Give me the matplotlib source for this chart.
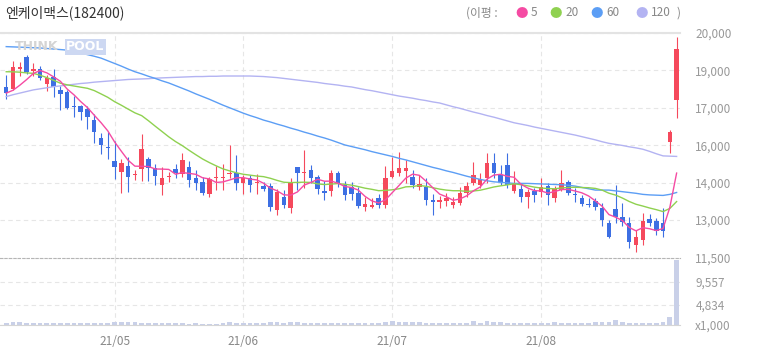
import numpy as np
import pandas as pd
import matplotlib
matplotlib.use("Agg")
import matplotlib.pyplot as plt

plt.rcParams['font.family'] = ['Noto Sans CJK KR', 'DejaVu Sans']

# 일봉 데이터 (21/04 중순 ~ 21/08/31), 화면에서 읽은 값
opens = [17990, 17890, 18650, 19090, 18590, 18650, 18080, 18360, 17870, 17800,
         17270, 17270, 17150, 16740, 16060, 15730, 15220, 14810, 15020, 14690,
         14900, 15270, 14960, 14310, 14620, 14910, 14720, 14970, 14580, 14440,
         13970, 14570, 14580, 14720, 14750, 14400, 14580, 14380, 14260, 14280,
         13380, 13870, 13440, 14970, 14760, 14870, 14620, 14090, 14070, 14760,
         14310, 14250, 14000, 13500, 13500, 13810, 13560, 14600, 14750, 14850,
         14620, 14250, 14250, 13750, 13660, 13720, 13560, 13650, 14000, 14380,
         14310, 14560, 15120, 14690, 15060, 14100, 14150, 13870, 14080, 14060,
         14280, 13810, 14120, 14440, 13980, 13840, 13600, 13700, 13440, 12880,
         13400, 13130, 12900, 12070, 12250, 13030, 12980, 12900, 15930, 17490]
highs = [18430, 18960, 18900, 19160, 18880, 18770, 18430, 18650, 18000, 17850,
         17650, 17300, 17250, 16960, 16250, 16280, 15960, 15270, 15370, 14860,
         16220, 15370, 15080, 15000, 14810, 15080, 15500, 15220, 14880, 14620,
         14600, 15010, 15080, 15800, 15420, 14700, 14700, 14710, 14440, 14400,
         14160, 14130, 14560, 14970, 15610, 15050, 14700, 14460, 14880, 14850,
         14460, 14430, 14250, 13860, 13830, 13990, 15010, 15370, 15550, 15250,
         14880, 14700, 14560, 13990, 13900, 14000, 13880, 14250, 14440, 15190,
         14750, 15520, 15500, 15060, 15500, 14850, 14380, 14160, 14210, 14560,
         14380, 14260, 14880, 14480, 14200, 13930, 13830, 13840, 13630, 12990,
         14310, 13630, 13130, 12610, 13270, 13240, 13070, 13440, 16360, 19840]
lows = [17530, 17850, 18400, 18480, 18380, 18240, 17830, 17620, 17100, 17160,
        16860, 16760, 16400, 15880, 15470, 15290, 14550, 14010, 14050, 14480,
        14460, 14460, 14310, 13940, 14410, 14580, 14620, 14250, 14140, 13940,
        13880, 14140, 14140, 14580, 14140, 13980, 14030, 13980, 14090, 13320,
        13200, 13450, 13280, 14130, 14180, 14380, 13980, 13760, 13890, 14250,
        13760, 13760, 13450, 13320, 13450, 13450, 13450, 14560, 14660, 14370,
        14180, 14110, 13560, 13200, 13440, 13530, 13450, 13560, 13880, 14310,
        14180, 14370, 14560, 14310, 14180, 14000, 13690, 13450, 13690, 13880,
        13560, 13690, 14080, 13950, 13690, 13510, 13490, 13380, 12760, 12320,
        12880, 12780, 11950, 11820, 12060, 12780, 12440, 12380, 15520, 16810]
closes = [17740, 18740, 18740, 18550, 18650, 18300, 18300, 17990, 17720, 17200,
          17220, 17030, 16870, 16290, 15810, 15680, 14970, 15120, 14600, 14710,
          15650, 14940, 14650, 14580, 14650, 14750, 15250, 14500, 14400, 14000,
          14540, 14590, 14600, 14770, 14400, 14580, 14310, 14440, 14150, 13500,
          14060, 13560, 14380, 14750, 14780, 14560, 14150, 14020, 14770, 14390,
          13940, 13970, 13520, 13590, 13550, 13560, 14560, 14850, 14930, 14930,
          14310, 14350, 13750, 13690, 13750, 13810, 13690, 14000, 14280, 14690,
          14530, 15150, 14750, 14440, 14310, 14350, 13850, 14040, 13950, 14250,
          13940, 14150, 14400, 14000, 13940, 13600, 13560, 13480, 13000, 12380,
          13100, 12940, 12190, 12360, 12980, 12900, 12590, 12590, 16310, 19390]
# 거래량 (천주)
volumes = [300, 550, 450, 420, 420, 400, 300, 350, 300, 420,
           400, 300, 350, 400, 420, 420, 450, 600, 450, 550,
           400, 400, 380, 300, 300, 350, 300, 250, 350, 250,
           250, 250, 280, 450, 350, 300, 280, 300, 400, 450,
           450, 350, 450, 450, 380, 300, 350, 300, 300, 380,
           300, 300, 280, 350, 300, 400, 450, 650, 550, 500,
           500, 450, 380, 400, 300, 300, 300, 300, 350, 700,
           400, 650, 500, 450, 350, 300, 300, 300, 300, 280,
           350, 450, 350, 350, 300, 300, 300, 450, 500, 500,
           900, 450, 400, 350, 350, 300, 300, 550, 1300, 11200]
# 화면 왼쪽 밖의 종가 (5/20일 이평 계산용)
closes_before = [18800, 19000, 19100, 18980, 19700, 20100, 20000, 19910, 18400, 18100,
                 17900, 17720, 18000, 18300, 18240, 18210, 17800, 17500, 17500]
# 60일, 120일 이평 (화면에서 읽은 값)
ma60 = [19490, 19480, 19470, 19460, 19450, 19440, 19420, 19400, 19380, 19360,
        19310, 19250, 19190, 19130, 19060, 18960, 18860, 18760, 18650, 18550,
        18470, 18380, 18300, 18210, 18130, 18030, 17930, 17830, 17720, 17620,
        17520, 17410, 17300, 17200, 17100, 17000, 16910, 16830, 16740, 16670,
        16590, 16520, 16440, 16370, 16290, 16220, 16140, 16070, 15990, 15900,
        15810, 15750, 15690, 15630, 15560, 15500, 15440, 15380, 15310, 15250,
        15180, 15110, 15040, 14970, 14910, 14840, 14780, 14710, 14640, 14580,
        14520, 14470, 14430, 14410, 14390, 14370, 14370, 14370, 14360, 14350,
        14340, 14330, 14320, 14300, 14270, 14220, 14170, 14120, 14120, 14120,
        14090, 14060, 14030, 14000, 13960, 13940, 13930, 13920, 13960, 14030]
ma120 = [17620, 17690, 17750, 17810, 17870, 17910, 17950, 17990, 18020, 18050,
         18080, 18110, 18130, 18160, 18180, 18200, 18220, 18240, 18260, 18270,
         18280, 18290, 18310, 18320, 18330, 18340, 18350, 18360, 18370, 18370,
         18380, 18380, 18390, 18390, 18390, 18390, 18390, 18380, 18370, 18350,
         18330, 18300, 18270, 18240, 18210, 18180, 18150, 18110, 18080, 18050,
         18010, 17980, 17930, 17880, 17840, 17790, 17740, 17690, 17640, 17600,
         17560, 17510, 17470, 17420, 17380, 17310, 17240, 17180, 17110, 17040,
         16980, 16910, 16850, 16780, 16710, 16640, 16590, 16540, 16480, 16430,
         16380, 16330, 16280, 16230, 16180, 16120, 16060, 16000, 15930, 15870,
         15830, 15790, 15740, 15700, 15650, 15570, 15480, 15400, 15390, 15380]
month_idx = [16, 35, 57, 79]
month_labels = ['21/05', '21/06', '21/07', '21/08']
price_ticks = [20000, 18600, 17200, 15800, 14400, 13000]
price_labels = ['20,000', '19,000', '17,000', '16,000', '14,000', '13,000']
vol_ticks = [11500, 7380, 3430, 0]
vol_labels = ['11,500', '9,557', '4,834', 'x1,000']

RED = '#f5495c'
BLUE = '#3d6fe3'
C5, C20, C60, C120 = '#f54ba3', '#8fd150', '#5c9ef5', '#b3b3f2'
GRID = '#e6e6e6'
TXT = '#999999'

W, H = 758, 355
def fx(px):
    return px / W
def fy(py):
    return 1 - py / H

n = len(closes)
x = np.arange(n)
o = np.array(opens)
c = np.array(closes)
allc = pd.Series(closes_before + closes)
ma5 = allc.rolling(5).mean().values[-n:]
ma20 = allc.rolling(20).mean().values[-n:]

fig = plt.figure(figsize=(W / 100, H / 100), dpi=100)
ax = fig.add_axes([0, fy(258), fx(680), fy(33) - fy(258)])
axv = fig.add_axes([0, fy(325), fx(680), fy(258) - fy(325)], sharex=ax)

# 캔들
cols = np.where(c >= o, RED, BLUE)
ax.vlines(x, lows, highs, colors=cols, lw=0.8, zorder=2)
ax.bar(x, np.maximum(np.abs(c - o), 40), bottom=np.minimum(o, c), width=0.66,
       color=cols, linewidth=0, zorder=2)

# 이동평균
ax.plot(x, ma120, color=C120, lw=1.0, zorder=3)
ax.plot(x, ma60, color=C60, lw=1.0, zorder=3)
ax.plot(x, ma20, color=C20, lw=1.0, zorder=3)
ax.plot(x, ma5, color=C5, lw=1.0, zorder=3)

ax.set_xlim(-0.92, 99.5)
ax.set_ylim(11578, 20000)
ax.set_yticks(price_ticks)
ax.set_yticklabels(price_labels)
ax.yaxis.tick_right()
ax.tick_params(axis='y', length=0, pad=11, labelsize=8.5, labelcolor=TXT)
ax.set_xticks(month_idx)
ax.tick_params(axis='x', length=0, labelbottom=False)
ax.grid(True, ls=(0, (4, 3)), color=GRID, lw=0.8, zorder=0)
for s in ['left', 'right', 'bottom']:
    ax.spines[s].set_visible(False)
ax.spines['top'].set_color('#e3e3e3')
ax.spines['top'].set_linewidth(1.5)

# 거래량
axv.bar(x, volumes, width=0.7, color='#c9d0e8', linewidth=0, zorder=2)
axv.set_ylim(0, 11500)
axv.set_yticks(vol_ticks)
axv.set_yticklabels(vol_labels)
axv.yaxis.tick_right()
axv.tick_params(axis='y', length=0, pad=11, labelsize=8.5, labelcolor=TXT)
axv.set_xticks(month_idx)
axv.set_xticklabels(month_labels)
axv.tick_params(axis='x', length=0, pad=7, labelsize=8.5, labelcolor='#888888')
axv.grid(True, ls=(0, (4, 3)), color=GRID, lw=0.8, zorder=0)
for s in ['left', 'right']:
    axv.spines[s].set_visible(False)
axv.spines['top'].set_color('#b5b5b5')
axv.spines['top'].set_linestyle((0, (2, 2)))
axv.spines['bottom'].set_color('#d5d5d5')

# 제목과 범례
fig.text(fx(5), fy(13), '엔케이맥스(182400)', fontsize=10, color='#333333', va='center')
fig.text(fx(466), fy(13), '(이평 :', fontsize=8.5, color='#888888', va='center')
for dot_x, lab, col in [(522, '5', C5), (556, '20', C20), (597, '60', C60), (642, '120', C120)]:
    fig.text(fx(dot_x), fy(13), '●', fontsize=9, color=col, va='center', ha='center')
    fig.text(fx(dot_x + 9), fy(13), lab, fontsize=8.5, color='#888888', va='center')
fig.text(fx(677), fy(13), ')', fontsize=8.5, color='#888888', va='center')

# 워터마크
fig.text(fx(15), fy(47), 'THINK', fontsize=9, fontweight='bold', color='#d4d4d4',
         va='center', family=['DejaVu Sans'])
fig.text(fx(66), fy(47), 'POOL', fontsize=9, fontweight='bold', color='#ffffff',
         va='center', family=['DejaVu Sans'],
         bbox=dict(boxstyle='square,pad=0.1', fc='#cdd8f2', ec='none'))

fig.savefig('out.png', dpi=100)
